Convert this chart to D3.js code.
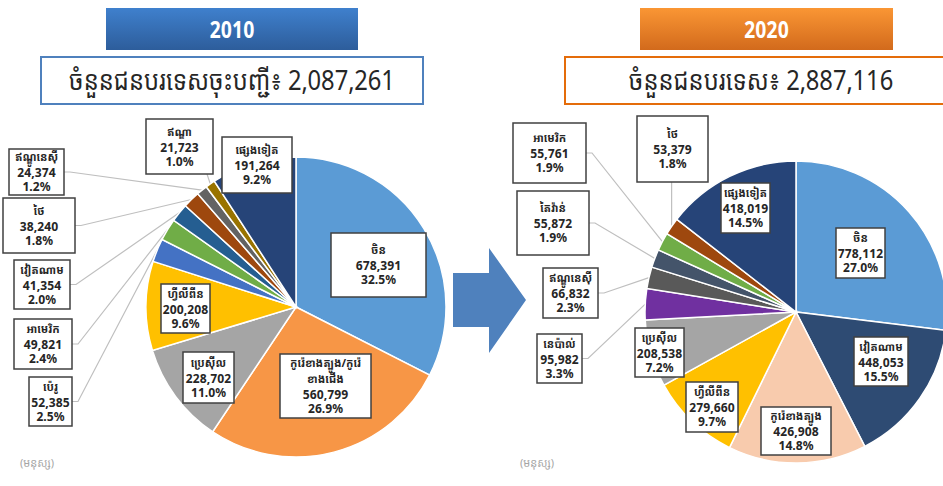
<!DOCTYPE html>
<html>
<head>
<meta charset="utf-8">
<script src="https://cdn.jsdelivr.net/npm/d3@7/dist/d3.min.js"></script>
<style>
  body { margin: 0; background: #fff; }
  svg { display: block; font-family: "Noto Sans Khmer", "Khmer OS", "Noto Sans", "DejaVu Sans", sans-serif; }
</style>
</head>
<body>
<svg id="chart" width="943" height="486"></svg>
<script>
// ---- data ----
const names2010 = ["ចិន", "កូរ៉េខាងត្បូង/កូរ៉េ\nខាងជើង", "ប្រេស៊ីល", "ហ្វីលីពីន", "ប៉េរូ", "អាមេរិក",
  "វៀតណាម", "ថៃ", "ឥណ្ឌូនេស៊ី", "ឥណ្ឌា", "ផ្សេងទៀត"];
const values2010 = [678391, 560799, 228702, 200208, 52385, 49821, 41354, 38240, 24374, 21723, 191264];
const total2010 = 2087261;

const names2020 = ["ចិន", "វៀតណាម", "កូរ៉េខាងត្បូង", "ហ្វីលីពីន", "ប្រេស៊ីល", "នេប៉ាល់",
  "ឥណ្ឌូនេស៊ី", "តៃវ៉ាន់", "អាមេរិក", "ថៃ", "ផ្សេងទៀត"];
const values2020 = [778112, 448053, 426908, 279660, 208538, 95982, 66832, 55872, 55761, 53379, 418019];
const total2020 = 2887116;

const years = ["2010", "2020"];
const titles = ["ចំនួនជនបរទេសចុះបញ្ជី៖ ", "ចំនួនជនបរទេស៖ "];
const unitNote = "(មនុស្ស)";

// ---- styles / layout ----
const colors2010 = ["#5B9BD5", "#F79646", "#A5A5A5", "#FFC000", "#4472C4", "#70AD47",
  "#255E91", "#9E480E", "#636363", "#997300", "#264478"];
const colors2020 = ["#5B9BD5", "#2E4B73", "#F8CBAD", "#FFC000", "#A5A5A5", "#7030A0",
  "#595959", "#44546A", "#70AD47", "#9E480E", "#264478"];

// label boxes: x, y, w, h, leader side (null = inside the slice)
const boxes2010 = [
  [331, 233, 95, 64, null], [280, 354, 91, 64, null], [183, 352, 51, 51, null],
  [161, 284, 49, 49, null], [29, 377, 43, 49, "right"], [14, 319, 58, 50, "right"],
  [14, 260, 56, 49, "right"], [3, 198, 72, 55, "right"], [9, 149, 55, 46, "right"],
  [146, 119, 67, 55, "bottom"], [222, 137, 70, 56, null]
];
const boxes2020 = [
  [836, 228, 49, 50, null], [854, 337, 54, 49, null], [761, 407, 70, 48, null],
  [686, 382, 52, 50, null], [635, 328, 49, 49, null], [537, 334, 45, 49, "right"],
  [543, 268, 55, 50, "right"], [517, 191, 72, 64, "right"], [513, 123, 73, 60, "right"],
  [637, 116, 71, 66, "bottom"], [721, 183, 49, 50, null]
];

const svg = d3.select("#chart");
const defs = svg.append("defs");
const fmtNum = d3.format(",");
const fmtPct = d3.format(".1%");

function gradient(id, top, bottom) {
  const lg = defs.append("linearGradient").attr("id", id)
    .attr("x1", 0).attr("y1", 0).attr("x2", 0).attr("y2", 1);
  lg.append("stop").attr("offset", "0%").attr("stop-color", top);
  lg.append("stop").attr("offset", "100%").attr("stop-color", bottom);
}
gradient("gBlue", "#3F80CD", "#2D5D9B");
gradient("gOrange", "#FA9634", "#D26A1C");

// year banner + total box
function header(x, w, fill, year, sx, sw, stroke, title) {
  svg.append("rect").attr("x", x).attr("y", 8).attr("width", w).attr("height", 42)
    .attr("fill", `url(#${fill})`);
  svg.append("text")
    .attr("transform", `translate(${x + w / 2},38) scale(0.8,1)`)
    .attr("text-anchor", "middle").attr("font-size", 24).attr("font-weight", "bold")
    .attr("fill", "#fff").text(year);

  svg.append("rect").attr("x", sx).attr("y", 57).attr("width", sw).attr("height", 47)
    .attr("fill", "#fff").attr("stroke", stroke).attr("stroke-width", 2);
  svg.append("text")
    .attr("transform", `translate(${sx + sw / 2},90) scale(0.88,1)`)
    .attr("text-anchor", "middle").attr("font-size", 27).attr("fill", "#262626")
    .text(title);
}

function drawPie(names, values, total, colors, boxes, cx, cy, r, noteX) {
  const data = names.map((n, i) => ({ name: n, value: values[i], color: colors[i], box: boxes[i] }));
  const arcs = d3.pie().value(d => d.value).sort(null)(data);
  const arc = d3.arc().innerRadius(0).outerRadius(r);

  // leader lines for labels outside the pie
  const lineGroup = svg.append("g").attr("fill", "none")
    .attr("stroke", "#BFBFBF").attr("stroke-width", 1.2);
  arcs.filter(d => d.data.box[4]).forEach(d => {
    const [bx, by, bw, bh, side] = d.data.box;
    const mid = (d.startAngle + d.endAngle) / 2;
    const px = cx + r * Math.sin(mid);
    const py = cy - r * Math.cos(mid);
    let pts;
    if (side === "right") {
      pts = [[bx + bw, by + bh / 2], [bx + bw + 6, by + bh / 2], [px, py]];
    } else {
      const sx = Math.max(bx + 6, Math.min(bx + bw - 6, px));
      pts = [[sx, by + bh], [px, py]];
    }
    lineGroup.append("path").attr("d", d3.line()(pts));
  });

  svg.append("g").attr("transform", `translate(${cx},${cy})`)
    .selectAll("path")
    .data(arcs)
    .join("path")
    .attr("d", arc)
    .attr("fill", d => d.data.color)
    .attr("stroke", "#fff")
    .attr("stroke-width", 1.5);

  // data labels: khmer name line(s), value, share
  const labels = svg.append("g").selectAll("g").data(arcs).join("g");
  labels.append("rect")
    .attr("x", d => d.data.box[0]).attr("y", d => d.data.box[1])
    .attr("width", d => d.data.box[2]).attr("height", d => d.data.box[3])
    .attr("fill", "#fff").attr("stroke", "#404040").attr("stroke-width", 1.5);
  labels.each(function (d) {
    const [bx, by, bw, bh] = d.data.box;
    const nameLines = d.data.name.split("\n");
    const lines = nameLines.concat([fmtNum(d.data.value), fmtPct(d.data.value / total)]);
    const gaps = lines.map((t, i) => i === 0 ? 0 : (i <= nameLines.length ? 16 : 14));
    const ys = [];
    gaps.reduce((acc, g, i) => (ys[i] = acc + g), 0);
    const y0 = by + bh / 2 - ys[ys.length - 1] / 2 + 4;
    d3.select(this).append("text")
      .attr("text-anchor", "middle").attr("font-weight", "bold")
      .attr("fill", "#262626")
      .selectAll("tspan").data(lines).join("tspan")
      .attr("x", bx + bw / 2).attr("y", (t, i) => y0 + ys[i])
      .attr("font-size", (t, i) => i < nameLines.length ? 11 : 12)
      .text(t => t);
  });

  svg.append("text").attr("x", noteX).attr("y", 467)
    .attr("font-size", 11).attr("fill", "#A6A6A6").text(unitNote);
}

header(106, 252, "gBlue", years[0], 41, 382, "#4F81BD", titles[0] + fmtNum(total2010));
header(640, 253, "gOrange", years[1], 565, 392, "#E46C0A", titles[1] + fmtNum(total2020));

drawPie(names2010, values2010, total2010, colors2010, boxes2010, 296, 307, 150, 20);
drawPie(names2020, values2020, total2020, colors2020, boxes2020, 796, 312, 151, 520);

// arrow between the two pies
svg.append("path")
  .attr("d", "M453,273H489V248L526,300L489,353V327H453Z")
  .attr("fill", "#4F81BD");
</script>
</body>
</html>
